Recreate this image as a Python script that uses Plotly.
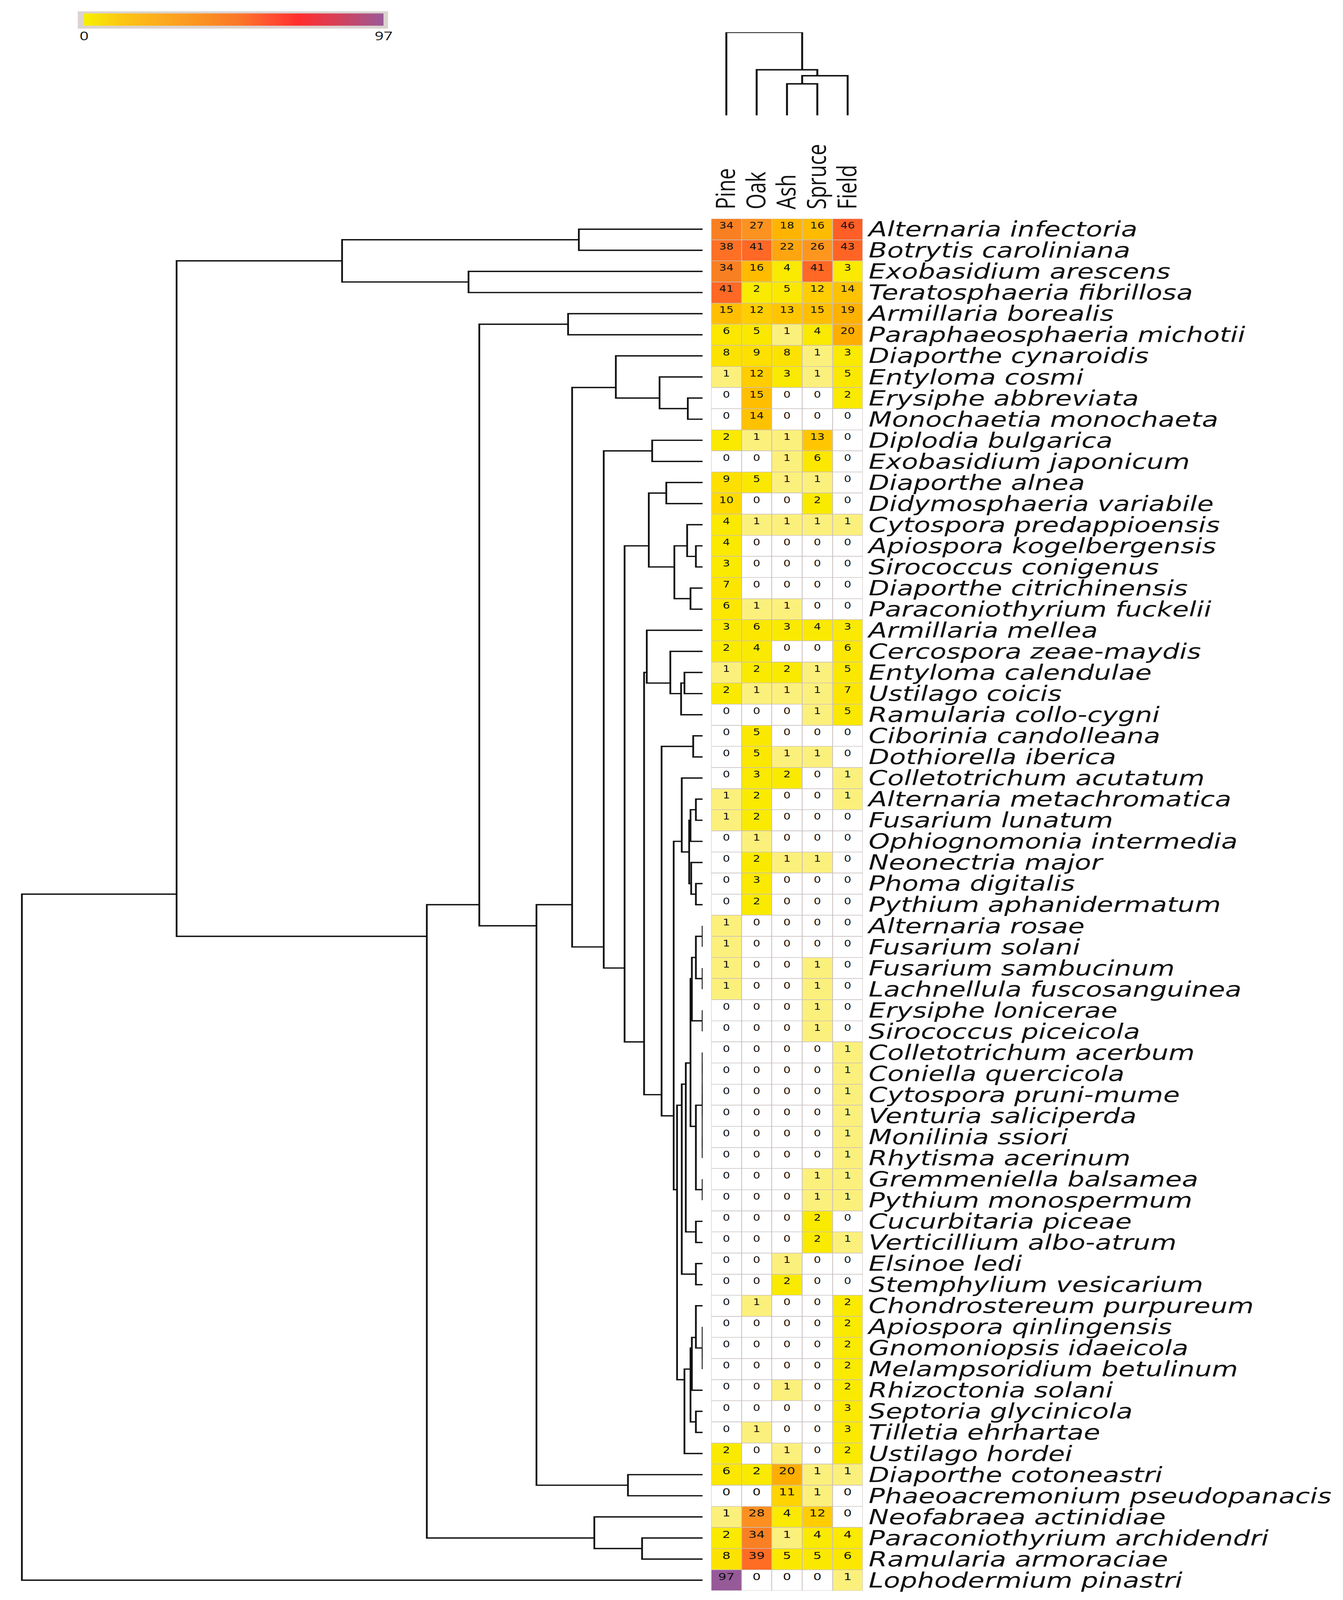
import plotly.graph_objects as go

# ---------------- data ----------------
columns = ["Pine", "Oak", "Ash", "Spruce", "Field"]

species = [
    "Alternaria infectoria", "Botrytis caroliniana", "Exobasidium arescens",
    "Teratosphaeria fibrillosa", "Armillaria borealis", "Paraphaeosphaeria michotii",
    "Diaporthe cynaroidis", "Entyloma cosmi", "Erysiphe abbreviata",
    "Monochaetia monochaeta", "Diplodia bulgarica", "Exobasidium japonicum",
    "Diaporthe alnea", "Didymosphaeria variabile", "Cytospora predappioensis",
    "Apiospora kogelbergensis", "Sirococcus conigenus", "Diaporthe citrichinensis",
    "Paraconiothyrium fuckelii", "Armillaria mellea", "Cercospora zeae-maydis",
    "Entyloma calendulae", "Ustilago coicis", "Ramularia collo-cygni",
    "Ciborinia candolleana", "Dothiorella iberica", "Colletotrichum acutatum",
    "Alternaria metachromatica", "Fusarium lunatum", "Ophiognomonia intermedia",
    "Neonectria major", "Phoma digitalis", "Pythium aphanidermatum",
    "Alternaria rosae", "Fusarium solani", "Fusarium sambucinum",
    "Lachnellula fuscosanguinea", "Erysiphe lonicerae", "Sirococcus piceicola",
    "Colletotrichum acerbum", "Coniella quercicola", "Cytospora pruni-mume",
    "Venturia saliciperda", "Monilinia ssiori", "Rhytisma acerinum",
    "Gremmeniella balsamea", "Pythium monospermum", "Cucurbitaria piceae",
    "Verticillium albo-atrum", "Elsinoe ledi", "Stemphylium vesicarium",
    "Chondrostereum purpureum", "Apiospora qinlingensis", "Gnomoniopsis idaeicola",
    "Melampsoridium betulinum", "Rhizoctonia solani", "Septoria glycinicola",
    "Tilletia ehrhartae", "Ustilago hordei", "Diaporthe cotoneastri",
    "Phaeoacremonium pseudopanacis", "Neofabraea actinidiae",
    "Paraconiothyrium archidendri", "Ramularia armoraciae", "Lophodermium pinastri",
]

pine = [34, 38, 34, 41, 15, 6, 8, 1, 0, 0, 2, 0, 9, 10, 4, 4, 3, 7, 6, 3, 2, 1, 2, 0,
        0, 0, 0, 1, 1, 0, 0, 0, 0, 1, 1, 1, 1, 0, 0, 0, 0, 0, 0, 0, 0, 0, 0, 0, 0,
        0, 0, 0, 0, 0, 0, 0, 0, 0, 2, 6, 0, 1, 2, 8, 97]
oak = [27, 41, 16, 2, 12, 5, 9, 12, 15, 14, 1, 0, 5, 0, 1, 0, 0, 0, 1, 6, 4, 2, 1, 0,
       5, 5, 3, 2, 2, 1, 2, 3, 2, 0, 0, 0, 0, 0, 0, 0, 0, 0, 0, 0, 0, 0, 0, 0, 0,
       0, 0, 1, 0, 0, 0, 0, 0, 1, 0, 2, 0, 28, 34, 39, 0]
ash = [18, 22, 4, 5, 13, 1, 8, 3, 0, 0, 1, 1, 1, 0, 1, 0, 0, 0, 1, 3, 0, 2, 1, 0,
       0, 1, 2, 0, 0, 0, 1, 0, 0, 0, 0, 0, 0, 0, 0, 0, 0, 0, 0, 0, 0, 0, 0, 0, 0,
       1, 2, 0, 0, 0, 0, 1, 0, 0, 1, 20, 11, 4, 1, 5, 0]
spruce = [16, 26, 41, 12, 15, 4, 1, 1, 0, 0, 13, 6, 1, 2, 1, 0, 0, 0, 0, 4, 0, 1, 1, 1,
          0, 1, 0, 0, 0, 0, 1, 0, 0, 0, 0, 1, 1, 1, 1, 0, 0, 0, 0, 0, 0, 1, 1, 2, 2,
          0, 0, 0, 0, 0, 0, 0, 0, 0, 0, 1, 1, 12, 4, 5, 0]
field = [46, 43, 3, 14, 19, 20, 3, 5, 2, 0, 0, 0, 0, 0, 1, 0, 0, 0, 0, 3, 6, 5, 7, 5,
         0, 0, 1, 1, 0, 0, 0, 0, 0, 0, 0, 0, 0, 0, 0, 1, 1, 1, 1, 1, 1, 1, 1, 0, 1,
         0, 0, 2, 2, 2, 2, 2, 3, 3, 2, 1, 0, 0, 4, 6, 1]

# Row dendrogram: nodes are (merge distance, left, right); leaves are row indices
G_27_29 = (1.8, (1.0, 27, 28), 29)
G_30_32 = (1.7, 30, (1.0, 31, 32))
G_26_32 = (3.1, 26, (2.0, G_27_29, G_30_32))
G_33_38 = (1.6, (1.0, (0.0, 33, 34), (0.0, 35, 36)), (0.0, 37, 38))
G_39_46 = (1.0, (0.0, (0.0, (0.0, 39, 40), (0.0, 41, 42)), (0.0, 43, 44)), (0.0, 45, 46))
G_33_48 = (2.5, (1.8, G_33_38, G_39_46), (1.0, 47, 48))
G_33_50 = (3.1, G_33_48, (1.0, 49, 50))
G_51_58 = (2.7, (1.8, (1.6, (1.0, 51, (0.0, 52, (0.0, 53, 54))), 55), (1.0, 56, 57)), 58)
G_33_58 = (3.8, G_33_50, G_51_58)
G_26_58 = (4.3, G_26_32, G_33_58)
G_24_58 = (6.1, (1.4, 24, 25), G_26_58)
G_19_23 = (8.3, 19, (4.8, 20, (3.2, (2.7, 21, 22), 23)))
G_19_58 = (8.7, G_19_23, G_24_58)
G_12_18 = (8.0, (5.4, 12, 13), (4.2, (2.3, 14, (1.0, 15, 16)), (1.8, 17, 18)))
G_12_58 = (11.6, G_12_18, G_19_58)
G_10_58 = (14.7, (7.5, 10, 11), G_12_58)
G_6_9 = (12.9, 6, (6.4, 7, (2.2, 8, 9)))
G_6_58 = (19.4, G_6_9, G_10_58)
G_6_60 = (24.7, G_6_58, (11.1, 59, 60))
G_4_60 = (33.2, (20.0, 4, 5), G_6_60)
G_4_63 = (41.0, G_4_60, (16.1, 61, (9.0, 62, 63)))
G_0_3 = (53.6, (18.4, 0, 1), (34.8, 2, 3))
ROW_TREE = (101.2, (78.2, G_0_3, G_4_63), 64)

# Column dendrogram
COL_TREE = (279, 0, (153, 1, (133, (106, 2, 3), 4)))

# ---------------- geometry helpers ----------------
W, H = 3439, 5355


def px(x):
    return x / W


def py(y):
    return 1 - y / H


def dendro_segments(tree):
    """Polylines (positions, heights); node position = mean of its leaf positions."""
    lines = []

    def walk(node):
        if isinstance(node, int):
            return [node], 0.0
        d, a, b = node
        la, ha = walk(a)
        lb, hb = walk(b)
        pa = sum(la) / len(la)
        pb = sum(lb) / len(lb)
        lines.append(([pa, pa, pb, pb], [ha, d, d, hb]))
        return la + lb, d

    walk(tree)
    return lines


z = [[pine[i], oak[i], ash[i], spruce[i], field[i]] for i in range(len(species))]
n_rows = len(species)
n_cols = len(columns)

# colour scales
heat_vals = [0, 1, 2, 6, 9, 11, 13, 16, 20, 22, 27, 34, 39, 46, 70, 97]
heat_cols = ["#ffffff", "#fcf07c", "#f9ea00", "#fbe700", "#fde000", "#ffd400",
             "#ffc600", "#ffbb00", "#ffae00", "#ffa510", "#fc9220", "#f98022",
             "#ff6c24", "#ff5e26", "#ff3030", "#965a98"]
heat_scale = [[v / 97, c] for v, c in zip(heat_vals, heat_cols)]

bar_scale = [[0.0, "#f7f000"], [0.12, "#fcc812"], [0.25, "#fcac1e"], [0.4, "#fb9022"],
             [0.52, "#fb7628"], [0.62, "#ff5230"], [0.72, "#ff2e2e"], [0.85, "#d4405a"],
             [1.0, "#9a5a98"]]

fig = go.Figure()

# grey background behind the cells, visible through the gaps as grid lines
fig.add_shape(type="rect", xref="x", yref="y", x0=-0.5, x1=n_cols - 0.5,
              y0=-0.5, y1=n_rows - 0.5, fillcolor="#c8bebe", line=dict(width=0),
              layer="below")

fig.add_trace(go.Heatmap(
    z=z, x=list(range(n_cols)), y=list(range(n_rows)),
    zmin=0, zmax=97, colorscale=heat_scale, showscale=False,
    xgap=2, ygap=2, hoverinfo="skip", xaxis="x", yaxis="y"))

# cell numbers
tx, ty, tt, ts = [], [], [], []
for i in range(n_rows):
    for j in range(n_cols):
        tx.append(j)
        ty.append(i - 0.13)
        tt.append(str(z[i][j]))
        ts.append(29 if i < 59 else 33)
fig.add_trace(go.Scatter(
    x=tx, y=ty, text=tt, mode="text", textposition="middle center",
    textfont=dict(family="DejaVu Sans", size=ts, color="#111111"),
    hoverinfo="skip", showlegend=False, xaxis="x", yaxis="y"))

# row dendrogram
xs, ys = [], []
for pos, hgt in dendro_segments(ROW_TREE):
    xs += hgt + [None]
    ys += pos + [None]
fig.add_trace(go.Scatter(x=xs, y=ys, mode="lines", line=dict(color="#111111", width=4.5),
                         hoverinfo="skip", showlegend=False, cliponaxis=False,
                         xaxis="x2", yaxis="y"))

# column dendrogram
xs, ys = [], []
for pos, hgt in dendro_segments(COL_TREE):
    xs += pos + [None]
    ys += hgt + [None]
fig.add_trace(go.Scatter(x=xs, y=ys, mode="lines", line=dict(color="#111111", width=5),
                         hoverinfo="skip", showlegend=False, cliponaxis=False,
                         xaxis="x", yaxis="y3"))

# colour bar (pure gradient) carried by an invisible trace, on a grey frame
fig.add_shape(type="rect", xref="paper", yref="paper", x0=px(188), x1=px(986),
              y0=py(92), y1=py(34), fillcolor="#dbd3d0", line=dict(width=0), layer="below")
fig.add_trace(go.Scatter(
    x=[0, 0], y=[0, 0], mode="markers",
    marker=dict(color=[0, 97], cmin=0, cmax=97, colorscale=bar_scale, opacity=0, size=1,
                showscale=True,
                colorbar=dict(orientation="h", x=px((206 + 973) / 2), xanchor="center",
                              y=py(41), yanchor="top", lenmode="pixels", len=767,
                              thicknessmode="pixels", thickness=41, xpad=0, ypad=0,
                              outlinewidth=0, tickvals=[0, 97], ticktext=["0", "97"],
                              ticks="", tickfont=dict(family="Open Sans", size=40,
                                                      color="#111111"))),
    hoverinfo="skip", showlegend=False, xaxis="x", yaxis="y"))

fig.update_layout(
    width=W, height=H, margin=dict(l=0, r=0, t=0, b=0),
    paper_bgcolor="white", plot_bgcolor="white", showlegend=False,
    xaxis=dict(domain=[px(1817), px(2207)], range=[-0.5, n_cols - 0.5], anchor="y",
               side="top", tickmode="array", tickvals=list(range(n_cols)), ticktext=columns,
               tickangle=-90, ticks="", ticklabelstandoff=30,
               tickfont=dict(family="Open Sans", size=68, color="#111111"),
               showgrid=False, zeroline=False, showline=False, fixedrange=True),
    yaxis=dict(domain=[py(5329), py(729)], range=[n_rows - 0.5, -0.5], anchor="x",
               side="right", tickmode="array", tickvals=list(range(n_rows)),
               ticktext=species, ticks="", ticklabelstandoff=14,
               tickfont=dict(family="DejaVu Sans", size=69, style="italic", color="#111111"),
               showgrid=False, zeroline=False, showline=False, fixedrange=True),
    xaxis2=dict(domain=[0, px(1795)], range=[1795 / 17.3, 0], anchor="y", visible=False,
                fixedrange=True),
    yaxis3=dict(domain=[py(383), py(104)], range=[0, 279], anchor="x", visible=False,
                fixedrange=True),
)

# The browser viewport may be shorter than the figure: scale the whole plot to fit it
fit = ("document.documentElement.style.margin='0';document.body.style.margin='0';"
       "document.documentElement.style.overflow='hidden';document.body.style.overflow='hidden';"
       "var gd=document.getElementById('{plot_id}');"
       "var sx=Math.min(1, window.innerWidth/%d), sy=Math.min(1, window.innerHeight/%d);"
       "if(sx<1||sy<1){gd.style.transformOrigin='0 0';"
       "gd.style.transform='scale('+sx+','+sy+')';}" % (W, H))

fig.write_html("out.html", post_script=fit, config={"displayModeBar": False})
